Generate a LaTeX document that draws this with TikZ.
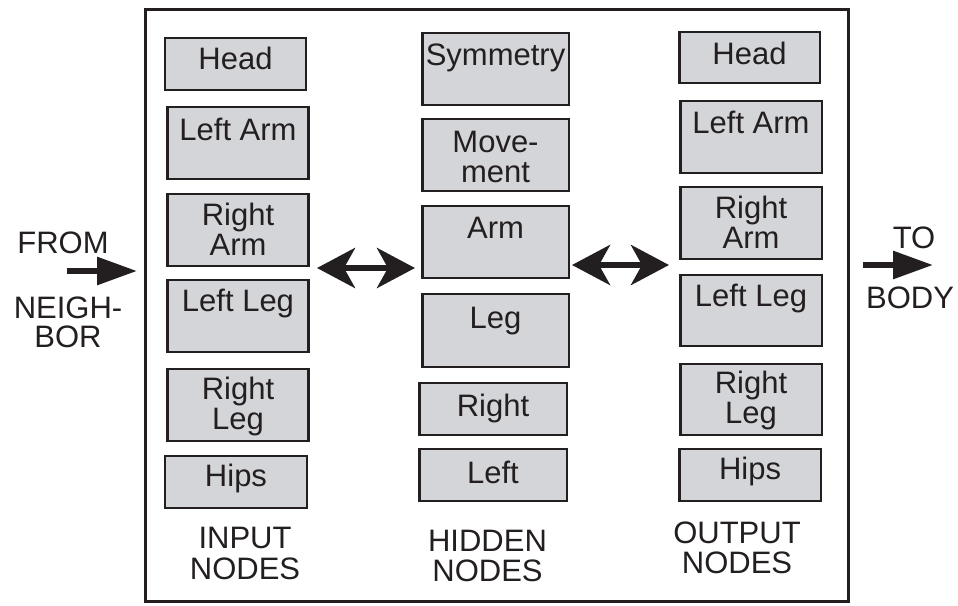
\documentclass[tikz,border=0pt]{standalone}
\usepackage{fontspec}
\setmainfont{Liberation Sans}
\usetikzlibrary{arrows.meta}
\definecolor{boxfill}{RGB}{212,213,216}
\definecolor{ink}{RGB}{35,31,32}
\begin{document}
\begin{tikzpicture}[x=1pt,y=-1pt,
  box/.style={draw=ink, fill=boxfill, line width=2.5pt, inner sep=0pt, minimum width=141pt},
  tall/.style={box, minimum height=72pt},
  short/.style={box, minimum height=52pt},
  txt/.style={font=\fontsize{31}{30}\selectfont, text=ink, align=center, inner sep=0pt},
  lab/.style={txt, anchor=north, yshift=-#1},
  dbl/.style={line width=6pt, draw=ink,
    {Stealth[length=38pt,width=40pt,inset=11pt]}-{Stealth[length=38pt,width=40pt,inset=11pt]}},
  sgl/.style={line width=6pt, draw=ink, -{Triangle[length=40pt,width=27pt]}}
]
\useasboundingbox (0,0) rectangle (958,605);
\fill[white] (0,0) rectangle (958,605);

% frame
\node[draw=ink, line width=3pt, minimum width=703pt, minimum height=592pt, inner sep=0pt] (frame) at (497,305.5) {};

% input column
\node[short] (iHead) at (235.5,64) {};
\node[lab=10pt] at (iHead.north) {Head};
\node[tall] (iLArm) at (238,143) {};
\node[lab=12pt] at (iLArm.north) {Left Arm};
\node[tall] (iRArm) at (238,230) {};
\node[lab=10pt] at (iRArm.north) {Right\\Arm};
\node[tall] (iLLeg) at (238,316) {};
\node[lab=10pt] at (iLLeg.north) {Left Leg};
\node[tall] (iRLeg) at (238,405) {};
\node[lab=9pt] at (iRLeg.north) {Right\\Leg};
\node[short, minimum width=142pt] (iHips) at (236,482) {};
\node[lab=9pt] at (iHips.north) {Hips};

% hidden column
\node[tall, minimum width=146.5pt] (hSym) at (495.5,69) {};
\node[lab=12pt] at (hSym.north) {Symmetry};
\node[tall, minimum width=146.5pt] (hMov) at (495.5,155) {};
\node[lab=13pt] at (hMov.north) {Move-\\ment};
\node[tall, minimum width=146.5pt] (hArm) at (495.5,242) {};
\node[lab=12pt] at (hArm.north) {Arm};
\node[tall, minimum width=146.5pt, minimum height=73pt] (hLeg) at (495.5,330.5) {};
\node[lab=14pt] at (hLeg.north) {Leg};
\node[short, minimum width=147.5pt] (hRight) at (493,409) {};
\node[lab=12pt] at (hRight.north) {Right};
\node[short, minimum width=147.5pt] (hLeft) at (493,475) {};
\node[lab=13pt] at (hLeft.north) {Left};

% output column
\node[short, minimum width=140.5pt, minimum height=51pt] (oHead) at (749.5,57.5) {};
\node[lab=11pt] at (oHead.north) {Head};
\node[tall, minimum width=141.5pt] (oLArm) at (751,137) {};
\node[lab=11pt] at (oLArm.north) {Left Arm};
\node[tall, minimum width=141.5pt] (oRArm) at (751,223) {};
\node[lab=10pt] at (oRArm.north) {Right\\Arm};
\node[tall, minimum width=141.5pt, minimum height=71pt] (oLLeg) at (751,310.5) {};
\node[lab=10pt] at (oLLeg.north) {Left Leg};
\node[tall, minimum width=141.5pt, minimum height=71pt] (oRLeg) at (751,399.5) {};
\node[lab=8pt] at (oRLeg.north) {Right\\Leg};
\node[short, minimum width=141.5pt] (oHips) at (750,475) {};
\node[lab=9pt] at (oHips.north) {Hips};

% column captions
\node[txt, anchor=north, font=\fontsize{31}{31}\selectfont] (cIn) at (245,527) {INPUT\\NODES};
\node[txt, anchor=north] (cHid) at (487.5,530) {HIDDEN\\NODES};
\node[txt, anchor=north] (cOut) at (737,522) {OUTPUT\\NODES};

% side texts
\node[txt, anchor=north] (from) at (63,232) {FROM};
\node[txt, anchor=north, font=\fontsize{31}{29}\selectfont] (neigh) at (68,297) {NEIGH-\\BOR};
\node[txt, anchor=north] (to) at (914,227) {TO};
\node[txt, anchor=north] (body) at (910,287) {BODY};

% arrows
\coordinate (L1) at (317,268);
\coordinate (L2) at (415,268);
\coordinate (R1) at (572,265);
\coordinate (R2) at (669,265);
\coordinate (F1) at (67,271);
\coordinate (F2) at (137,271);
\coordinate (T1) at (863,265);
\coordinate (T2) at (933,265);
\draw[dbl] (L1) -- (L2);
\draw[dbl] (R1) -- (R2);
\draw[sgl] (F1) -- (F2);
\draw[sgl] (T1) -- (T2);
\end{tikzpicture}
\end{document}
